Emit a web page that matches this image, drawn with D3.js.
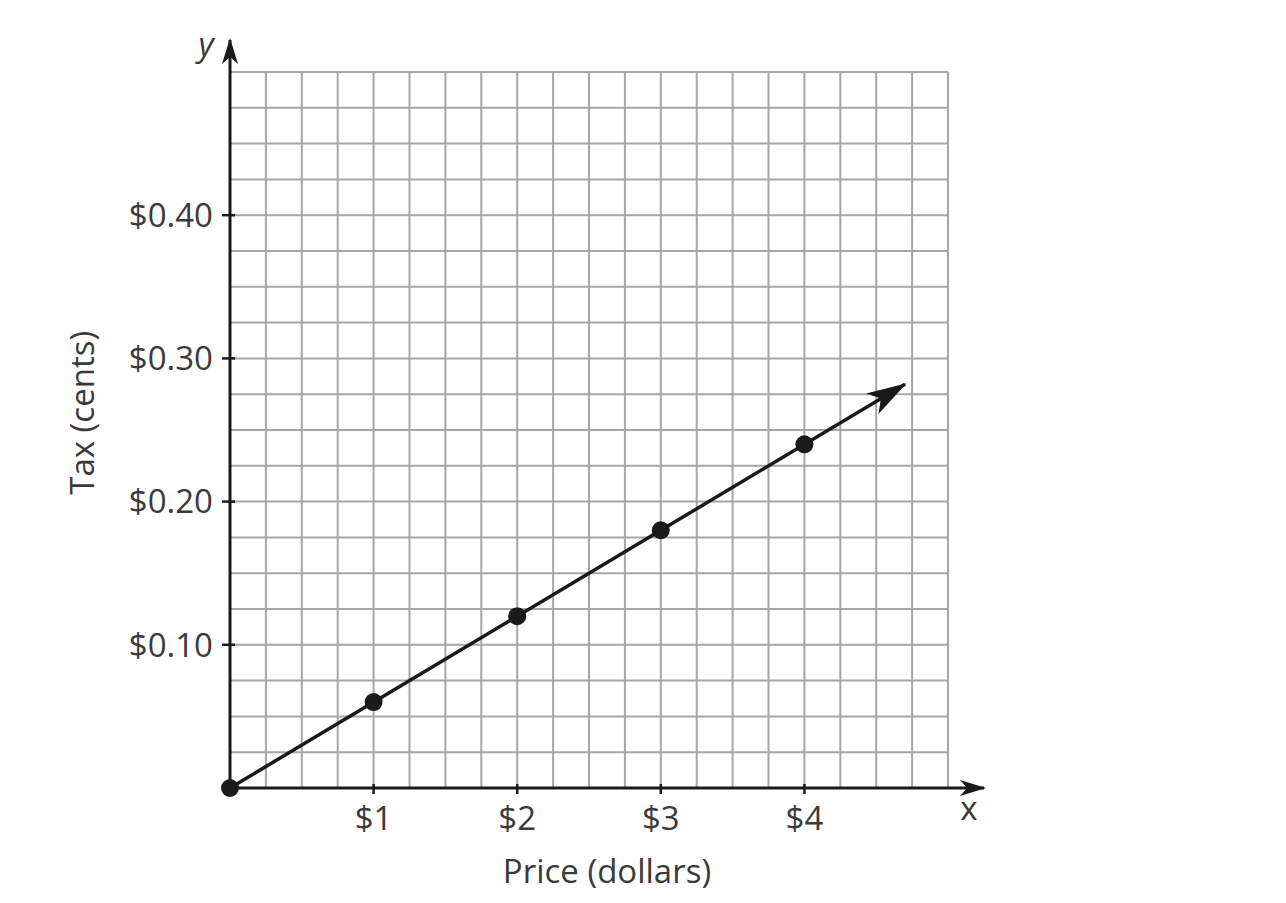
<!DOCTYPE html>
<html>
<head>
<meta charset="utf-8">
<script src="https://cdn.jsdelivr.net/npm/d3@7"></script>
<style>
  body { margin: 0; background: #fff; }
  text { font-family: "Open Sans", sans-serif; fill: #3a3a3a; }
</style>
</head>
<body>
<div id="chart-container"></div>
<script>
// price in dollars vs tax
const prices = [0, 1, 2, 3, 4];
const taxes = [0, 0.06, 0.12, 0.18, 0.24];
const xTickValues = [1, 2, 3, 4];
const xTickLabels = ["$1", "$2", "$3", "$4"];
const yTickValues = [0.1, 0.2, 0.3, 0.4];
const yTickLabels = ["$0.10", "$0.20", "$0.30", "$0.40"];
const lineEnd = 4.7; // where the arrow on the line stops
const rate = 0.06;

const margin = { top: 72, right: 338, bottom: 115, left: 230 };
const width = 1286 - margin.left - margin.right;
const height = 903 - margin.top - margin.bottom;
const fontSize = "33px";

const svg = d3.select("#chart-container")
  .append("svg")
  .attr("width", 1286)
  .attr("height", 903)
  .append("g")
  .attr("transform", `translate(${margin.left},${margin.top})`);

const x = d3.scaleLinear().domain([0, 5]).range([0, width]);
const y = d3.scaleLinear().domain([0, 0.5]).range([height, 0]);

// arrow markers
const defs = svg.append("defs");
defs.append("marker")
  .attr("id", "arrow")
  .attr("viewBox", "0 -8 26 16")
  .attr("refX", 24)
  .attr("refY", 0)
  .attr("markerWidth", 26)
  .attr("markerHeight", 16)
  .attr("markerUnits", "userSpaceOnUse")
  .attr("orient", "auto")
  .append("path")
  .attr("d", "M0,-8 L26,0 L0,8 L7,0 Z")
  .attr("fill", "#1a1a1a");
defs.append("marker")
  .attr("id", "arrowBig")
  .attr("viewBox", "0 -12 40 24")
  .attr("refX", 38)
  .attr("refY", 0)
  .attr("markerWidth", 40)
  .attr("markerHeight", 24)
  .attr("markerUnits", "userSpaceOnUse")
  .attr("orient", "auto")
  .append("path")
  .attr("d", "M0,-12 L40,0 L0,12 L10,0 Z")
  .attr("fill", "#1a1a1a");

// grid
const gridX = d3.range(0, 5.001, 0.25);
const gridY = d3.range(0, 0.5001, 0.025);
svg.append("g").selectAll("line")
  .data(gridX)
  .join("line")
  .attr("x1", d => x(d)).attr("x2", d => x(d))
  .attr("y1", 0).attr("y2", height)
  .attr("stroke", "#a6a6a6").attr("stroke-width", 2);
svg.append("g").selectAll("line")
  .data(gridY)
  .join("line")
  .attr("y1", d => y(d)).attr("y2", d => y(d))
  .attr("x1", 0).attr("x2", width)
  .attr("stroke", "#a6a6a6").attr("stroke-width", 2);

// axes lines with arrows
svg.append("line")
  .attr("x1", 0).attr("y1", height)
  .attr("x2", width + 36).attr("y2", height)
  .attr("stroke", "#1a1a1a").attr("stroke-width", 3)
  .attr("marker-end", "url(#arrow)");
svg.append("line")
  .attr("x1", 0).attr("y1", height)
  .attr("x2", 0).attr("y2", -32)
  .attr("stroke", "#1a1a1a").attr("stroke-width", 3)
  .attr("marker-end", "url(#arrow)");

// ticks
const xAxis = svg.append("g");
xAxis.selectAll("line")
  .data(xTickValues)
  .join("line")
  .attr("x1", d => x(d)).attr("x2", d => x(d))
  .attr("y1", height - 4).attr("y2", height + 6)
  .attr("stroke", "#1a1a1a").attr("stroke-width", 2.5);
xAxis.selectAll("text")
  .data(xTickValues)
  .join("text")
  .attr("x", d => x(d))
  .attr("y", height + 42)
  .attr("text-anchor", "middle")
  .style("font-size", fontSize)
  .text((d, i) => xTickLabels[i]);

const yAxis = svg.append("g");
yAxis.selectAll("line")
  .data(yTickValues)
  .join("line")
  .attr("y1", d => y(d)).attr("y2", d => y(d))
  .attr("x1", -8).attr("x2", 5)
  .attr("stroke", "#1a1a1a").attr("stroke-width", 2.5);
yAxis.selectAll("text")
  .data(yTickValues)
  .join("text")
  .attr("x", -17)
  .attr("y", d => y(d))
  .attr("dy", "0.36em")
  .attr("text-anchor", "end")
  .style("font-size", fontSize)
  .text((d, i) => yTickLabels[i]);

// axis labels
svg.append("text")
  .attr("x", (x(0) + x(5)) / 2 + 18)
  .attr("y", height + 95)
  .attr("text-anchor", "middle")
  .style("font-size", fontSize)
  .text("Price (dollars)");
svg.append("text")
  .attr("transform", `translate(-136,${y(0.262)}) rotate(-90)`)
  .attr("text-anchor", "middle")
  .style("font-size", fontSize)
  .text("Tax (cents)");
svg.append("text")
  .attr("x", width + 21)
  .attr("y", height + 32)
  .attr("text-anchor", "middle")
  .style("font-size", fontSize)
  .text("x");
svg.append("text")
  .attr("x", -24)
  .attr("y", -16)
  .attr("text-anchor", "middle")
  .style("font-size", fontSize)
  .style("font-style", "italic")
  .text("y");

// data line with arrow
svg.append("line")
  .attr("x1", x(0)).attr("y1", y(0))
  .attr("x2", x(lineEnd)).attr("y2", y(lineEnd * rate))
  .attr("stroke", "#1a1a1a").attr("stroke-width", 3.5)
  .attr("marker-end", "url(#arrowBig)");

svg.append("g").selectAll("circle")
  .data(prices)
  .join("circle")
  .attr("cx", d => x(d))
  .attr("cy", (d, i) => y(taxes[i]))
  .attr("r", 9)
  .attr("fill", "#1a1a1a");
</script>
</body>
</html>
